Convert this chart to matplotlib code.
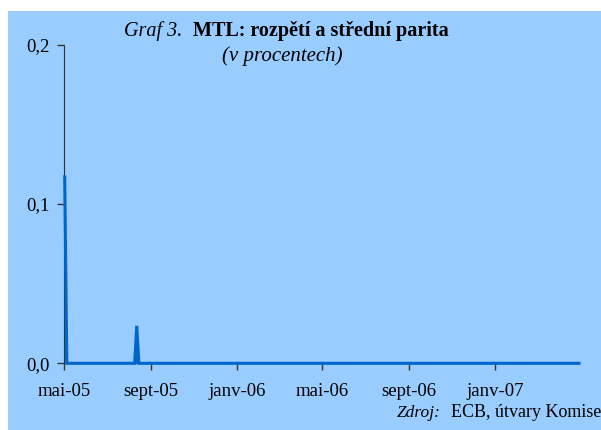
import matplotlib
matplotlib.use("Agg")
import matplotlib.pyplot as plt
from matplotlib.patches import Rectangle
import pandas as pd

# MTL: rozpětí a střední parita (v procentech) - hlavní body řady
datumy = ["2005-05-02", "2005-05-05", "2005-08-09", "2005-08-12", "2005-08-15", "2007-04-30"]
hodnoty = [0.117, 0.0, 0.0, 0.0235, 0.0, 0.0]

tick_datumy = ["2005-05-01", "2005-09-01", "2006-01-01", "2006-05-01", "2006-09-01", "2007-01-01"]
tick_popisky = ["mai-05", "sept-05", "janv-06", "mai-06", "sept-06", "janv-07"]
y_ticky = [0.0, 0.1, 0.2]
y_popisky = ["0,0", "0,1", "0,2"]

pozadi = "#99CCFF"
modra = "#0066CC"
serif = "Liberation Serif"

x = pd.to_datetime(datumy)

fig = plt.figure(figsize=(6.01, 4.30), dpi=100)
fig.patch.set_facecolor("white")
# modrý rámeček za grafem
fig.patches.append(Rectangle((8 / 601, 0), 1, 1 - 11 / 430, transform=fig.transFigure,
                             facecolor=pozadi, edgecolor="none", zorder=-10))

ax = fig.add_axes([64 / 601, 1 - 363.3 / 430, (579 - 64) / 601, (363.3 - 44.5) / 430])
ax.set_facecolor("none")
ax.fill_between(x, hodnoty, 0, color=modra, linewidth=0, zorder=3)
ax.plot(x, hodnoty, color=modra, linewidth=2.2, solid_joinstyle="miter", clip_on=False, zorder=3)

ax.set_xlim(pd.Timestamp("2005-05-01"), pd.Timestamp("2007-04-30"))
ax.set_ylim(0, 0.2)
ax.set_xticks(pd.to_datetime(tick_datumy))
ax.set_xticklabels(tick_popisky, fontfamily=serif, fontsize=13.5)
ax.set_yticks(y_ticky)
ax.set_yticklabels(y_popisky, fontfamily=serif, fontsize=13.5)

for s in ["top", "right"]:
    ax.spines[s].set_visible(False)
ax.spines["left"].set_color("#333333")
ax.spines["bottom"].set_color("#333333")
ax.tick_params(axis="both", colors="#333333", labelcolor="black", length=5, width=1)
ax.tick_params(axis="y", pad=5)
ax.tick_params(axis="x", pad=9.5)

# nadpis
fig.text(182 / 601, 1 - 36 / 430, "Graf 3.", ha="right", va="baseline",
         fontfamily=serif, fontstyle="italic", fontsize=14.5)
fig.text(193 / 601, 1 - 36 / 430, "MTL: rozpětí a střední parita", ha="left", va="baseline",
         fontfamily=serif, fontweight="bold", fontsize=14.5)
fig.text(282 / 601, 1 - 61 / 430, "(v procentech)", ha="center", va="baseline",
         fontfamily=serif, fontstyle="italic", fontsize=15)

# zdroj
fig.text(397 / 601, 1 - 417 / 430, "Zdroj:", ha="left", va="baseline",
         fontfamily=serif, fontstyle="italic", fontsize=12.5)
fig.text(451 / 601, 1 - 417 / 430, "ECB, útvary Komise", ha="left", va="baseline",
         fontfamily=serif, fontsize=13)

fig.savefig("out.png", dpi=100, facecolor=fig.get_facecolor())
